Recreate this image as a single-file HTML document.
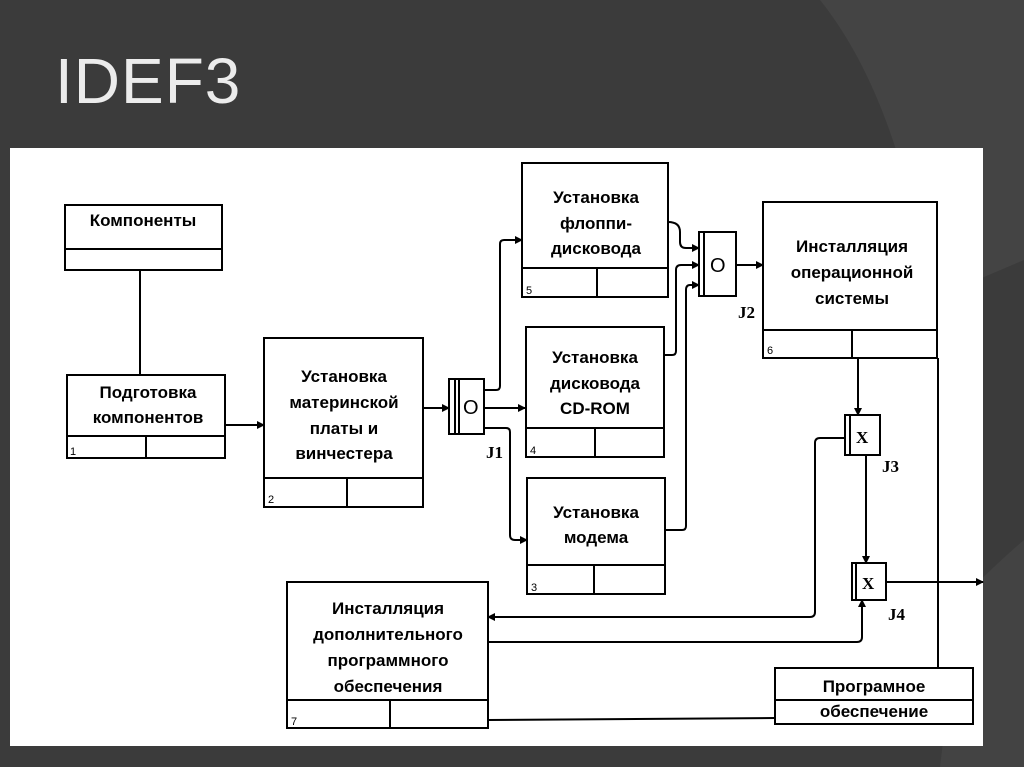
<!DOCTYPE html>
<html><head><meta charset="utf-8"><style>
html,body{margin:0;padding:0;background:#3b3b3b;}
svg{display:block}
text{font-family:"Liberation Sans",sans-serif;font-weight:bold;fill:#000}
.t{font-size:17px;text-anchor:middle}
.n{font-size:11px;font-weight:normal}
.j{font-family:"Liberation Serif",serif;font-size:17px;font-weight:bold}
</style></head><body>
<svg width="1024" height="767" viewBox="0 0 1024 767" xmlns="http://www.w3.org/2000/svg">
<defs><marker id="a" markerWidth="8" markerHeight="8" refX="7" refY="4" orient="auto" markerUnits="userSpaceOnUse"><path d="M0,0 L8,4 L0,8 z" fill="#000"/></marker></defs>
<rect width="1024" height="767" fill="#3b3b3b"/>
<path d="M820,0 Q900,100 930,300 L1024,260 L1024,0 Z" fill="#444"/>
<path d="M960,600 Q1000,560 1024,540 L1024,767 L940,767 Z" fill="#434343"/>
<text x="55" y="103" style="font-family:'Liberation Sans',sans-serif;font-weight:normal;font-size:64px;fill:#ececec;letter-spacing:1px">IDEF3</text>
<rect x="10" y="148" width="973" height="598" fill="#fff"/>
<g fill="none" stroke="#000" stroke-width="2">
<rect x="65" y="205" width="157" height="65"/><line x1="65" y1="249" x2="222" y2="249"/>
<line x1="140" y1="270" x2="140" y2="375"/>
<rect x="67" y="375" width="158" height="83"/><line x1="67" y1="436" x2="225" y2="436"/><line x1="146" y1="436" x2="146" y2="458"/>
<line x1="225" y1="425" x2="264" y2="425" marker-end="url(#a)"/>
<rect x="264" y="338" width="159" height="169"/><line x1="264" y1="478" x2="423" y2="478"/><line x1="347" y1="478" x2="347" y2="507"/>
<line x1="423" y1="408" x2="449" y2="408" marker-end="url(#a)"/>
<rect x="449" y="379" width="35" height="55"/><line x1="455" y1="379" x2="455" y2="434"/><line x1="459" y1="379" x2="459" y2="434"/>
<path d="M484,390 H496 Q500,390 500,386 V244 Q500,240 504,240 H522" marker-end="url(#a)"/>
<line x1="484" y1="408" x2="525" y2="408" marker-end="url(#a)"/>
<path d="M484,428 H506 Q510,428 510,432 V535 Q510,540 515,540 H527" marker-end="url(#a)"/>
<rect x="522" y="163" width="146" height="134"/><line x1="522" y1="268" x2="668" y2="268"/><line x1="597" y1="268" x2="597" y2="297"/>
<rect x="526" y="327" width="138" height="130"/><line x1="526" y1="428" x2="664" y2="428"/><line x1="595" y1="428" x2="595" y2="457"/>
<rect x="527" y="478" width="138" height="116"/><line x1="527" y1="565" x2="665" y2="565"/><line x1="594" y1="565" x2="594" y2="594"/>
<path d="M668,222 Q680,222 680,232 V242 Q680,248 686,248 H699" marker-end="url(#a)"/>
<path d="M664,355 H672 Q676,355 676,351 V270 Q676,265 681,265 H699" marker-end="url(#a)"/>
<path d="M665,530 H682 Q686,530 686,526 V290 Q686,285 690,285 H699" marker-end="url(#a)"/>
<rect x="699" y="232" width="37" height="64"/><line x1="704" y1="232" x2="704" y2="296"/>
<line x1="736" y1="265" x2="763" y2="265" marker-end="url(#a)"/>
<rect x="763" y="202" width="174" height="156"/><line x1="763" y1="330" x2="937" y2="330"/><line x1="852" y1="330" x2="852" y2="358"/>
<line x1="858" y1="358" x2="858" y2="415" marker-end="url(#a)"/>
<rect x="845" y="415" width="35" height="40"/><line x1="850" y1="415" x2="850" y2="455"/>
<line x1="866" y1="455" x2="866" y2="563" marker-end="url(#a)"/>
<path d="M845,438 H820 Q815,438 815,443 V612 Q815,617 810,617 H488" marker-end="url(#a)"/>
<rect x="852" y="563" width="34" height="37"/><line x1="856" y1="563" x2="856" y2="600"/>
<line x1="886" y1="582" x2="983" y2="582" marker-end="url(#a)"/>
<path d="M488,642 H857 Q862,642 862,637 V600" marker-end="url(#a)"/>
<rect x="287" y="582" width="201" height="146"/><line x1="287" y1="700" x2="488" y2="700"/><line x1="390" y1="700" x2="390" y2="728"/>
<line x1="488" y1="720" x2="775" y2="718"/>
<line x1="938" y1="358" x2="938" y2="668"/>
<rect x="775" y="668" width="198" height="56"/><line x1="775" y1="700" x2="973" y2="700"/>
</g>
<g>
<text class="t" x="143" y="226">Компоненты</text>
<text class="t" x="148" y="398">Подготовка</text><text class="t" x="148" y="423">компонентов</text>
<text class="n" x="70" y="455">1</text>
<text class="t" x="344" y="382">Установка</text><text class="t" x="344" y="408">материнской</text><text class="t" x="344" y="434">платы и</text><text class="t" x="344" y="459">винчестера</text>
<text class="n" x="268" y="503">2</text>
<text class="t" x="596" y="203">Установка</text><text class="t" x="596" y="229">флоппи-</text><text class="t" x="596" y="254">дисковода</text>
<text class="n" x="526" y="294">5</text>
<text class="t" x="595" y="363">Установка</text><text class="t" x="595" y="389">дисковода</text><text class="t" x="595" y="414">CD-ROM</text>
<text class="n" x="530" y="454">4</text>
<text class="t" x="596" y="518">Установка</text><text class="t" x="596" y="543">модема</text>
<text class="n" x="531" y="591">3</text>
<text class="t" x="852" y="252">Инсталляция</text><text class="t" x="852" y="278">операционной</text><text class="t" x="852" y="304">системы</text>
<text class="n" x="767" y="354">6</text>
<text class="t" x="388" y="614">Инсталляция</text><text class="t" x="388" y="640">дополнительного</text><text class="t" x="388" y="666">программного</text><text class="t" x="388" y="692">обеспечения</text>
<text class="n" x="291" y="725">7</text>
<text class="t" x="874" y="692">Програмное</text><text class="t" x="874" y="717">обеспечение</text>
<text class="j" x="463" y="414" style="font-size:20px;font-family:'Liberation Sans',sans-serif;font-weight:normal">O</text>
<text class="j" x="710" y="272" style="font-size:20px;font-family:'Liberation Sans',sans-serif;font-weight:normal">O</text>
<text class="j" x="856" y="443">X</text>
<text class="j" x="862" y="589">X</text>
<text class="j" x="486" y="458">J1</text>
<text class="j" x="738" y="318">J2</text>
<text class="j" x="882" y="472">J3</text>
<text class="j" x="888" y="620">J4</text>
</g>
</svg>
</body></html>
